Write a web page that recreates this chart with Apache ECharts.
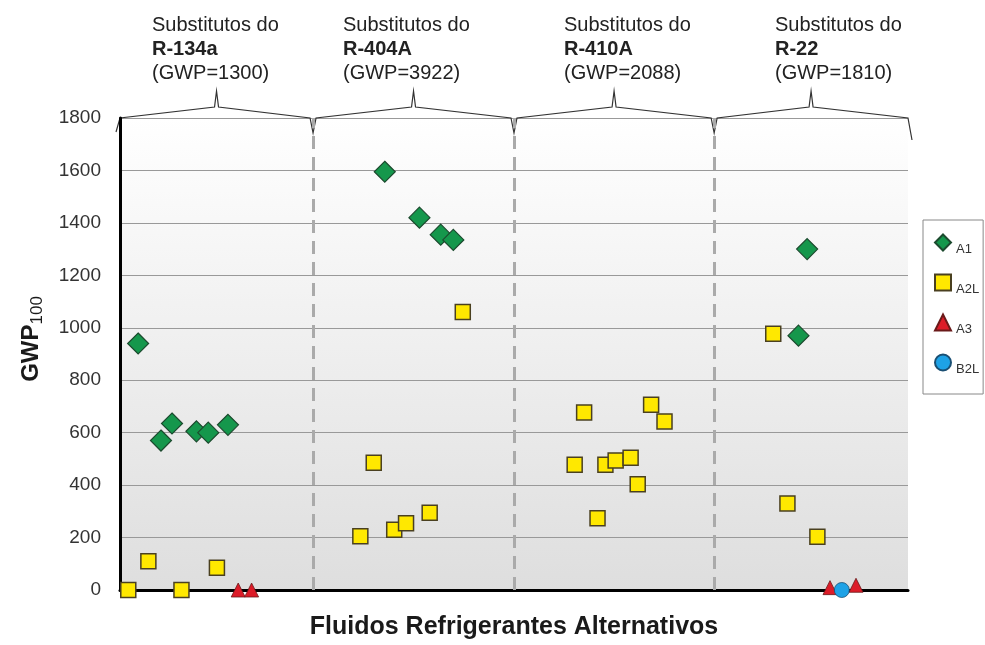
<!DOCTYPE html>
<html>
<head>
<meta charset="utf-8">
<script src="https://cdn.jsdelivr.net/npm/echarts@6/dist/echarts.min.js"></script>
<style>
  html, body { margin: 0; padding: 0; background: #fff; }
  #chart { width: 985px; height: 645px; }
</style>
</head>
<body>
<div id="chart"></div>
<script>
// x position along the axis (0-100, arbitrary units), y = GWP100
const a1Pos = [2.3, 5.2, 6.6, 9.7, 11.2, 13.7, 33.6, 38.0, 40.7, 42.3, 86.1, 87.2];
const a1Gwp = [940, 570, 635, 605, 600, 630, 1595, 1420, 1355, 1335, 970, 1300];

const a2lPos = [1.05, 3.6, 7.8, 12.3, 30.5, 32.2, 34.8, 36.3, 39.3, 43.5,
                57.7, 58.9, 60.6, 61.6, 62.9, 64.8, 65.7, 67.4, 69.1, 82.9, 84.7, 88.5];
const a2lGwp = [0, 110, 0, 85, 205, 485, 230, 255, 295, 1060,
                478, 677, 274, 478, 494, 504, 403, 706, 643, 977, 330, 203];

const a3Pos = [15.0, 16.7, 90.1, 93.4];
const a3Gwp = [0, 0, 9, 18];

const b2lPos = [91.6];
const b2lGwp = [0];

const groupBounds = [24.5, 50, 75.4];
const groupNames = ['R-134a', 'R-404A', 'R-410A', 'R-22'];
const groupGwp = [1300, 3922, 2088, 1810];
const yTicks = [0, 200, 400, 600, 800, 1000, 1200, 1400, 1600, 1800];

const pairs = (xs, ys) => xs.map((x, i) => [x, ys[i]]);

const chart = echarts.init(document.getElementById('chart'));

const headerLeft = [152, 343, 564, 775];

chart.setOption({
  animation: false,
  textStyle: { fontFamily: 'Liberation Sans, Arial, sans-serif' },
  grid: {
    left: 120, right: 77, top: 118, bottom: 51,
    show: true, borderWidth: 0,
    backgroundColor: new echarts.graphic.LinearGradient(0, 0, 0, 1, [
      { offset: 0, color: '#ffffff' },
      { offset: 1, color: '#dedede' }
    ])
  },
  legend: {
    orient: 'vertical',
    left: 923, top: 220,
    padding: [9, 4, 18, 11],
    itemGap: 13,
    itemWidth: 16, itemHeight: 16,
    borderColor: '#888', borderWidth: 1,
    formatter: '{t|{name}}',
    textStyle: {
      color: '#333',
      rich: { t: { fontSize: 13, lineHeight: 14, color: '#333', padding: [14, 0, 0, 0] } }
    },
    data: ['A1', 'A2L', 'A3', 'B2L']
  },
  xAxis: {
    type: 'value', min: 0, max: 100,
    axisLine: { show: true, onZero: false, lineStyle: { color: '#000', width: 3 } },
    axisTick: { show: false },
    axisLabel: { show: false },
    splitLine: { show: false },
    name: 'Fluidos Refrigerantes Alternativos',
    nameLocation: 'middle', nameGap: 25,
    nameTextStyle: { fontSize: 25, fontWeight: 'bold', color: '#1a1a1a' }
  },
  yAxis: {
    type: 'value', min: yTicks[0], max: yTicks[yTicks.length - 1], interval: 200,
    axisLine: { show: true, lineStyle: { color: '#000', width: 3 } },
    axisTick: { show: false },
    axisLabel: { fontSize: 19, color: '#333', margin: 19, formatter: v => String(v) },
    splitLine: { lineStyle: { color: '#999', width: 1 } },
    name: '{b|GWP}{s|100}',
    nameLocation: 'middle', nameGap: 74,
    nameTextStyle: {
      color: '#1a1a1a',
      padding: [0, 0, 0, 30],
      rich: {
        b: { fontSize: 24, fontWeight: 'bold', color: '#1a1a1a' },
        s: { fontSize: 17, color: '#1a1a1a', padding: [12, 0, 0, 0] }
      }
    }
  },
  series: [
    {
      name: 'A1', type: 'scatter', symbol: 'diamond', symbolSize: 21, z: 4,
      itemStyle: { color: '#15974c', borderColor: '#1c4a2e', borderWidth: 1.2, opacity: 1 },
      data: pairs(a1Pos, a1Gwp),
      markLine: {
        silent: true, symbol: 'none', label: { show: false },
        lineStyle: { color: '#aaaaaa', type: [13, 8], width: 3, opacity: 1 },
        data: groupBounds.map(x => ({ xAxis: x }))
      }
    },
    {
      name: 'A2L', type: 'scatter', symbol: 'rect', symbolSize: 15, z: 3,
      itemStyle: { color: '#ffe800', borderColor: '#4a4020', borderWidth: 1.5, opacity: 1 },
      data: pairs(a2lPos, a2lGwp)
    },
    {
      name: 'A3', type: 'scatter', symbol: 'triangle', symbolSize: 14, z: 3,
      itemStyle: { color: '#dc1c28', borderColor: '#6a1a1a', borderWidth: 0.8, opacity: 1 },
      data: pairs(a3Pos, a3Gwp)
    },
    {
      name: 'B2L', type: 'scatter', symbol: 'circle', symbolSize: 15, z: 3,
      itemStyle: { color: '#1ea2e6', borderColor: '#1a4f73', borderWidth: 0.8, opacity: 1 },
      data: pairs(b2lPos, b2lGwp)
    }
  ]
});

// braces above each group and the header text
const topY = chart.convertToPixel({ gridIndex: 0 }, [0, 1800])[1];
const edges = [0].concat(groupBounds, [100]).map(x => chart.convertToPixel({ gridIndex: 0 }, [x, 1800])[0]);
const pts = [[edges[0] - 4, topY + 14], [edges[0], topY]];
for (let i = 0; i < 4; i++) {
  const a = edges[i], b = edges[i + 1], c = (a + b) / 2;
  pts.push([c - 2, topY - 11], [c, topY - 27], [c + 2, topY - 11]);
  if (i < 3) {
    pts.push([b - 3, topY], [b, topY + 15], [b + 3, topY]);
  } else {
    pts.push([b, topY], [b + 4, topY + 22]);
  }
}

const graphics = [{
  type: 'polyline', silent: true,
  shape: { points: pts },
  style: { stroke: '#333', lineWidth: 1.2, fill: null }
}];
groupNames.forEach((n, i) => {
  graphics.push({
    type: 'text', left: headerLeft[i], top: 15, silent: true,
    style: {
      text: '{n|Substitutos do}\n{b|' + n + '}\n{n|(GWP=' + groupGwp[i] + ')}',
      rich: {
        n: { fontSize: 20, lineHeight: 24, fill: '#222', fontFamily: 'Liberation Sans' },
        b: { fontSize: 20, lineHeight: 24, fontWeight: 'bold', fill: '#222', fontFamily: 'Liberation Sans' }
      }
    }
  });
});
chart.setOption({ graphic: graphics });
</script>
</body>
</html>
